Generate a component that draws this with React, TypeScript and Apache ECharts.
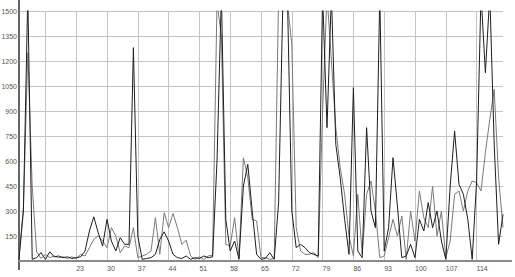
import React, { useEffect, useRef } from "react";
import * as echarts from "echarts";

// x categories: sample numbers 10 .. 120
const categories: string[] = Array.from({ length: 111 }, (_, k) => String(10 + k));

// y tick values
const yTicks = [0, 150, 300, 450, 600, 750, 900, 1050, 1200, 1350, 1500];

// dark series (values above 1500 are clipped by the chart)
const darkSeries: number[] = [
  10, 300, 1600, 10, 20, 50, 10, 55, 25, 30, // 10-19
  20, 25, 15, 20, 25, 60, 180, 265, 170, 90, // 20-29
  250, 120, 60, 140, 100, 100, 1280, 150, 10, 15, // 30-39
  20, 40, 130, 175, 120, 40, 20, 15, 30, 10, // 40-49
  20, 15, 30, 20, 25, 600, 1600, 250, 60, 120, // 50-59
  10, 450, 580, 300, 40, 10, 15, 50, 10, 350, // 60-69
  1600, 1600, 300, 80, 100, 80, 50, 40, 30, 1600, // 70-79
  800, 1600, 700, 500, 250, 40, 1040, 60, 20, 800, // 80-89
  300, 200, 1600, 60, 200, 620, 330, 20, 30, 100, // 90-99
  20, 250, 180, 350, 200, 300, 120, 10, 450, 780, // 100-109
  460, 400, 250, 10, 480, 1600, 1130, 1600, 700, 100, // 110-119
  280, // 120
];

// light series
const lightSeries: number[] = [
  20, 320, 1250, 450, 55, 15, 40, 20, 30, 20, // 10-19
  25, 15, 25, 15, 40, 30, 80, 130, 150, 120, // 20-29
  80, 200, 150, 50, 90, 80, 200, 20, 30, 40, // 30-39
  60, 260, 40, 290, 200, 285, 200, 100, 125, 30, // 40-49
  10, 25, 10, 30, 35, 1550, 1350, 100, 90, 260, // 50-59
  20, 620, 500, 250, 240, 20, 20, 10, 15, 1600, // 60-69
  1600, 1550, 1300, 200, 60, 40, 40, 50, 20, 900, // 70-79
  1600, 1200, 800, 560, 400, 150, 30, 400, 40, 400, // 80-89
  480, 300, 20, 30, 140, 250, 150, 270, 10, 300, // 90-99
  120, 420, 260, 200, 450, 150, 300, 20, 120, 400, // 100-109
  420, 300, 420, 480, 470, 420, 650, 850, 1030, 500, // 110-119
  200, // 120
];

const GRID_LEFT = 19;
const GRID_RIGHT = 12;
const GRID_TOP = 11;
const GRID_BOTTOM = 16;
const FONT = "Liberation Sans, Arial, sans-serif";

export default function App() {
  const ref = useRef<HTMLDivElement>(null);

  useEffect(() => {
    if (!ref.current) return;
    const chart = echarts.init(ref.current, null, { renderer: "svg" });
    const W = 515;
    const H = 277;
    chart.setOption({
      animation: false,
      backgroundColor: "#ffffff",
      grid: {
        left: GRID_LEFT,
        right: GRID_RIGHT,
        top: GRID_TOP,
        bottom: GRID_BOTTOM,
        containLabel: false,
        outerBoundsMode: "none",
      },
      xAxis: {
        type: "category",
        data: categories,
        boundaryGap: false,
        axisLine: { show: true, lineStyle: { color: "#8a8a8a", width: 2 } },
        axisTick: { show: false },
        axisLabel: {
          interval: (_i: number, v: string) => {
            const n = Number(v);
            return n >= 23 && (n - 2) % 7 === 0;
          },
          align: "left",
          margin: 4,
          fontSize: 7,
          color: "#555",
          fontFamily: FONT,
        },
        splitLine: {
          show: true,
          interval: (_i: number, v: string) => {
            const n = Number(v);
            return n >= 16 && (n - 2) % 7 === 0;
          },
          lineStyle: { color: "#c4c4c4", width: 1 },
        },
      },
      yAxis: {
        type: "value",
        min: yTicks[0],
        max: yTicks[yTicks.length - 1],
        interval: 150,
        axisLine: { show: true, lineStyle: { color: "#666", width: 2 } },
        axisTick: { show: false },
        axisLabel: {
          margin: 2,
          fontSize: 7,
          color: "#555",
          fontFamily: FONT,
          padding: [7, 0, 0, 0],
          showMinLabel: false,
          formatter: (v: number) => String(v),
        },
        splitLine: { show: true, lineStyle: { color: "#c4c4c4", width: 1 } },
      },
      graphic: [
        {
          type: "line",
          shape: { x1: GRID_LEFT, y1: 0, x2: GRID_LEFT, y2: GRID_TOP },
          style: { stroke: "#666", lineWidth: 2 },
        },
        {
          type: "line",
          shape: { x1: GRID_LEFT, y1: H - GRID_BOTTOM, x2: GRID_LEFT, y2: H - 7 },
          style: { stroke: "#666", lineWidth: 2 },
        },
        {
          type: "line",
          shape: { x1: W - GRID_RIGHT, y1: H - GRID_BOTTOM, x2: W - 3, y2: H - GRID_BOTTOM },
          style: { stroke: "#8a8a8a", lineWidth: 2 },
        },
      ],
      series: [
        {
          type: "line",
          data: lightSeries,
          symbol: "none",
          lineStyle: { color: "#7a7a7a", width: 1 },
          clip: true,
        },
        {
          type: "line",
          data: darkSeries,
          symbol: "none",
          lineStyle: { color: "#1e1e1e", width: 1 },
          clip: true,
        },
      ],
    });
    return () => chart.dispose();
  }, []);

  return <div ref={ref} style={{ width: 515, height: 277, position: "absolute", left: 0, top: 0 }} />;
}
